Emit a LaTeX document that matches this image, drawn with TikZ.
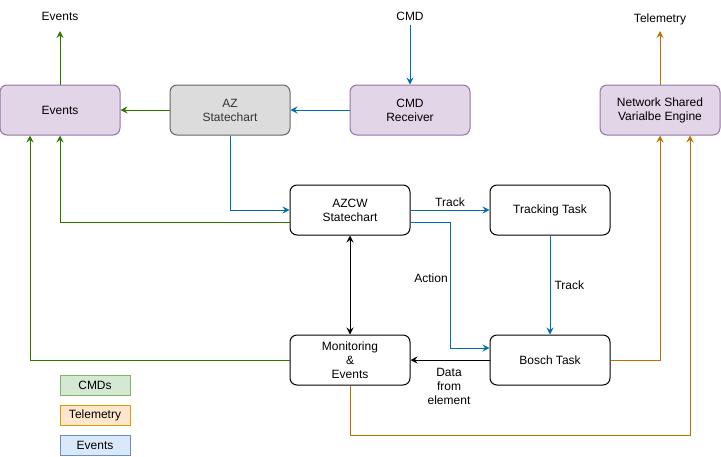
\documentclass[tikz,border=0pt]{standalone}
\usepackage{fontspec}
\setmainfont{Liberation Sans}
\usetikzlibrary{arrows.meta,calc}
\definecolor{evgreen}{HTML}{2D7600}
\definecolor{cmdblue}{HTML}{006EAF}
\definecolor{telorange}{HTML}{BD7000}
\definecolor{purfill}{HTML}{E1D5E7}
\definecolor{purline}{HTML}{9673A6}
\definecolor{grayfill}{HTML}{DCDCDC}
\definecolor{grayline}{HTML}{666666}
\definecolor{graytext}{HTML}{333333}
\definecolor{lgfill}{HTML}{D5E8D4}
\definecolor{lgline}{HTML}{82B366}
\definecolor{lofill}{HTML}{FFE6CC}
\definecolor{loline}{HTML}{D79B00}
\definecolor{lbfill}{HTML}{DAE8FC}
\definecolor{lbline}{HTML}{6C8EBF}
\tikzset{
  box/.style={rounded corners=7pt, minimum width=120pt, minimum height=50pt, align=center, line width=1pt, inner sep=0pt},
  pbox/.style={box, draw=purline, fill=purfill},
  gbox/.style={box, draw=grayline, fill=grayfill, text=graytext},
  wbox/.style={box, draw=black, fill=white},
  lbl/.style={inner sep=1pt, align=center},
  legbox/.style={minimum width=70pt, minimum height=20pt, inner sep=0pt, line width=1pt},
  conn/.style={line width=1pt},
  gconn/.style={conn, draw=evgreen, -{Stealth[length=7pt,width=7pt,inset=2.5pt]}},
  bconn/.style={conn, draw=cmdblue, -{Stealth[length=7pt,width=7pt,inset=2.5pt]}},
  oconn/.style={conn, draw=telorange, -{Stealth[length=7pt,width=7pt,inset=2.5pt]}},
  kconn/.style={conn, draw=black, -{Stealth[length=7pt,width=7pt,inset=2.5pt]}},
}
\begin{document}
\begin{tikzpicture}[x=1pt,y=-1pt, font=\fontsize{12}{14}\selectfont]
\useasboundingbox (0,0) rectangle (721,456);
% boxes
\node[pbox] (ev) at (60,110) {Events};
\node[gbox] (az) at (230,110) {AZ\\Statechart};
\node[pbox] (cmdr) at (410,110) {CMD\\Receiver};
\node[pbox] (nsve) at (660,110) {Network Shared\\Varialbe Engine};
\node[wbox] (azcw) at (350,210) {AZCW\\Statechart};
\node[wbox] (track) at (550,210) {Tracking Task};
\node[wbox] (mon) at (350,360) {Monitoring\\\&\\Events};
\node[wbox] (bosch) at (550,360) {Bosch Task};
% free labels
\node[lbl] (evout) at (60,16) {Events};
\node[lbl] (cmdin) at (410,16) {CMD};
\node[lbl] (telout) at (660,19) {Telemetry};
% coordinates
\coordinate (evtip) at (60,31);
\coordinate (cmdstart) at (410,25);
\coordinate (teltip) at (660,31);
\coordinate (actx) at (450,0);
\coordinate (a1) at ([yshift=-12pt]azcw.east);
\coordinate (a2) at ([yshift=12pt]bosch.west);
\coordinate (tcorner) at (690,435);
% connectors
\draw[gconn] (ev.north) -- (evtip);
\draw[gconn] (az.west) -- (ev.east);
\draw[bconn] (cmdr.west) -- (az.east);
\draw[bconn] (cmdstart) -- (cmdr.north);
\draw[bconn] (az.south) |- (azcw.west);
\draw[gconn] ([yshift=-12pt]azcw.west) -| (ev.south);
\draw[gconn] (mon.west) -| ([xshift=-30pt]ev.south);
\draw[bconn] (azcw.east) -- node[lbl, above=2pt] {Track} (track.west);
\draw[bconn] (a1) -- (a1 -| actx) -- (actx |- a2) -- (a2);
\node[lbl] (actlbl) at (431,278) {Action};
\draw[bconn] (track.south) -- node[lbl, right=3pt] {Track} (bosch.north);
\draw[kconn, {Stealth[length=7pt,width=7pt,inset=2.5pt]}-{Stealth[length=7pt,width=7pt,inset=2.5pt]}] (azcw.south) -- (mon.north);
\draw[kconn] (bosch.west) -- (mon.east);
\node[lbl] (datalbl) at (449,386) {Data\\from\\element};
\draw[oconn] (bosch.east) -| (nsve.south);
\draw[oconn] (mon.south) |- (tcorner) -- ([xshift=30pt]nsve.south);
\draw[oconn] (nsve.north) -- (teltip);
% legend
\node[legbox, fill=lgfill, draw=lgline] (legc) at (95,385) {CMDs};
\node[legbox, fill=lofill, draw=loline] (legt) at (95,415) {Telemetry};
\node[legbox, fill=lbfill, draw=lbline] (lege) at (95,445) {Events};
\end{tikzpicture}
\end{document}
